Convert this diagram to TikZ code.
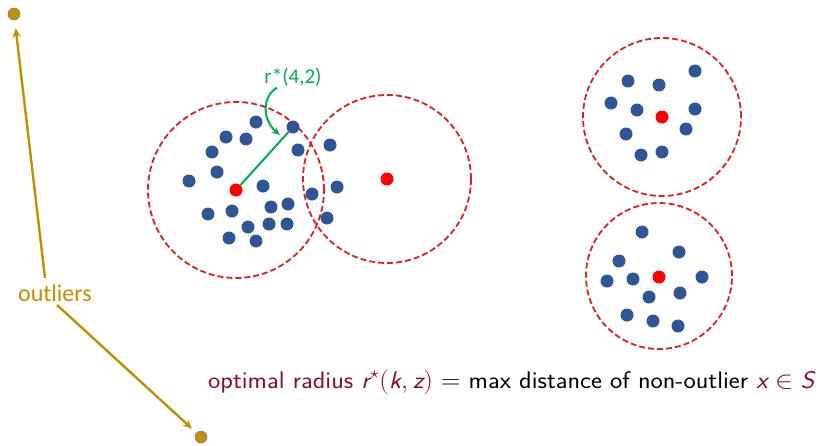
\documentclass[tikz,border=0pt]{standalone}
\usepackage{amsmath}
\usepackage{amssymb}
\usepackage{fontspec}
\newfontfamily\calib{Carlito}
\usetikzlibrary{arrows.meta}
\definecolor{ptblue}{HTML}{2F5597}
\definecolor{outgold}{HTML}{BF9000}
\definecolor{radred}{HTML}{E41E1E}
\definecolor{rgreen}{HTML}{00B050}
\definecolor{maroon}{HTML}{8B0A2A}

\begin{document}
\begin{tikzpicture}[x=1pt,y=-1pt]
\tikzset{bdot/.style={circle,fill=ptblue,inner sep=0pt,minimum size=13pt},
    cdot/.style={circle,fill=red,inner sep=0pt,minimum size=13pt},
    odot/.style={circle,fill=outgold,draw=gray,line width=0.6pt,inner sep=0pt,minimum size=12pt},
    ball/.style={draw=radred,dash pattern=on 6pt off 3pt,line width=1.8pt},
    oarrow/.style={draw=outgold,line width=2.4pt,-{Stealth[length=9pt,width=8pt]}},
    rline/.style={draw=rgreen,line width=2pt}};
\useasboundingbox (0,0) rectangle (829,445);
\draw[ball] (236,190) circle (88pt);
    \draw[ball] (387,179) circle (84pt);
    \draw[ball] (662,117) circle (79pt);
    \draw[ball] (659,276) circle (73pt);
\foreach \p [count=\i] in {(256,122),(293,127),(226,137),(246,139),(212,152),(298,150),(330,145),(217,172),(189,181),(263,186),(337,187),(312,194),(271,207),(288,204),(208,214),(232,211),(248,227),(269,224),(287,224),(327,218),(229,238),(256,241)}
    \node[bdot] (b\i) at \p {};
\foreach \p [count=\i] in {(695,71),(628,81),(659,85),(611,103),(637,110),(695,109),(686,129),(626,134),(641,155),(662,152)}
    \node[bdot] (t\i) at \p {};
\foreach \p [count=\i] in {(642,232),(679,252),(619,261),(607,281),(633,279),(702,277),(649,297),(680,293),(627,315),(653,321),(678,326)}
    \node[bdot] (u\i) at \p {};
\node[cdot] (c1) at (236,190) {};
    \node[cdot] (c2) at (387,179) {};
    \node[cdot] (c3) at (662,117) {};
    \node[cdot] (c4) at (659,277) {};
\node[odot] (out1) at (14,14) {};
    \node[odot] (out2) at (201,437) {};
\node[text=outgold,font=\calib\fontsize{24}{28}\selectfont] (outl) at (55,293) {outliers};
\draw[oarrow,shorten >=8pt] ([xshift=-10pt,yshift=3pt]outl.north) -- (out1);
    \draw[oarrow,shorten >=6pt] ([xshift=2pt]outl.south) -- (out2);
\node[text=rgreen,font=\calib\fontsize{21}{24}\selectfont] (rlab) at (293,77) {r*(4,2)};
    \coordinate (rtip) at (280,135);
    \draw[rline] (c1) -- (b2);
    \draw[draw=rgreen,line width=2pt,-{Stealth[length=8pt,width=7pt]}] ([xshift=-16pt,yshift=2pt]rlab.south) .. controls (262,96) and (262,120) .. (rtip);
\node[anchor=base west,text=maroon,font=\sffamily\fontsize{24}{28}\selectfont,inner sep=0pt] (expl) at (208,388) {\scalebox{1.085}[1]{optimal radius $\textit{r}^\star(\textit{k},\textit{z})$ \textcolor{black}{$=$ max distance of non-outlier} $\textit{x}\in\textit{S}$}};
\end{tikzpicture}
\end{document}
